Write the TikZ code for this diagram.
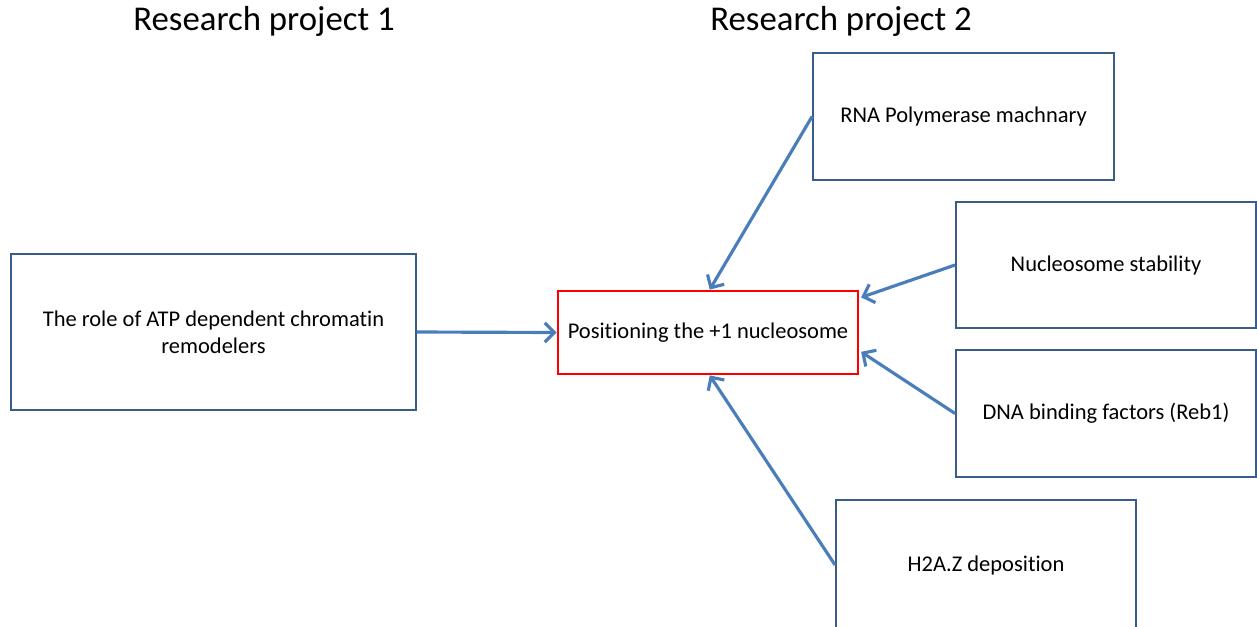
\documentclass[tikz,border=0pt]{standalone}
\usepackage{fontspec}
\setmainfont[Ligatures={NoCommon}]{Carlito}
\usepackage{tikz}
\usetikzlibrary{arrows.meta}

\begin{document}
\begin{tikzpicture}[x=0.02cm, y=-0.02cm,
  topic/.style = {draw=boxblue, line width=1.1pt, fill=white, align=center, font=\fontsize{12.8}{15.5}\selectfont},
  goal/.style = {draw=red, line width=1.6pt, fill=white, align=center, font=\fontsize{12.8}{15.5}\selectfont},
  feed/.style = {draw=arrowblue, line width=1.8pt, -{Straight Barb[length=5.5pt, width=11pt, line width=1.8pt]}},
  title/.style = {font=\fontsize{19.8}{23}\selectfont}]
\definecolor{boxblue}{RGB}{56,93,138}
\definecolor{arrowblue}{RGB}{74,126,187}
\useasboundingbox (0,0) rectangle (1257,626);
\clip (0,0) rectangle (1257,626);
\node[title] (rp1) at (264,21) {Research project 1};
\node[title] (rp2) at (841,21) {Research project 2};
\node[topic, minimum width=8.1cm, minimum height=3.12cm] (atp) at (213.5,332) {The role of ATP dependent chromatin\\remodelers};
\node[goal, minimum width=6cm, minimum height=1.66cm] (pos) at (708,332.5) {Positioning the +1 nucleosome};
\node[topic, minimum width=6.02cm, minimum height=2.54cm] (rna) at (963.5,116.5) {RNA Polymerase machnary};
\node[topic, minimum width=6cm, minimum height=2.52cm] (stab) at (1106,265) {Nucleosome stability};
\node[topic, minimum width=6cm, minimum height=2.54cm] (reb) at (1106,413.5) {DNA binding factors (Reb1)};
\node[topic, minimum width=6cm, minimum height=2.6cm] (h2az) at (986,565) {H2A.Z deposition};
\draw[feed] (atp.east) -- (pos.west);
\draw[feed] (rna.west) -- ([xshift=1pt]pos.north);
\draw[feed] (stab.west) -- ([xshift=1pt, yshift=20pt]pos.east);
\draw[feed] (reb.west) -- ([xshift=1pt, yshift=-11pt]pos.east);
\draw[feed] (h2az.west) -- ([xshift=1pt]pos.south);
\end{tikzpicture}
\end{document}
